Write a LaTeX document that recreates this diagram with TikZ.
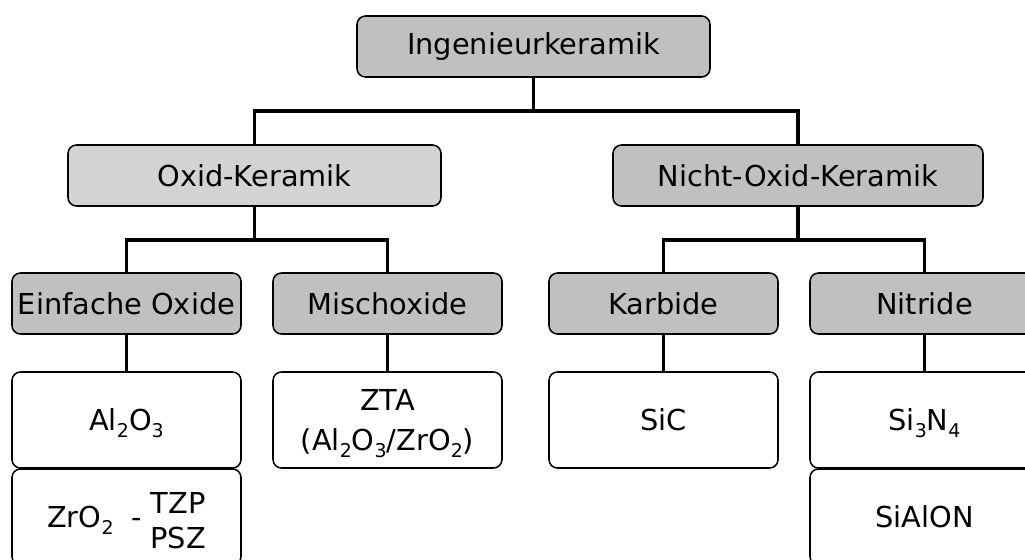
\documentclass[tikz,border=0pt]{standalone}
\usepackage{fontspec}
\setmainfont{DejaVu Sans}
\definecolor{boxgray}{HTML}{C0C0C0}
\definecolor{boxlight}{HTML}{D3D3D3}
\newcommand\chemsub[1]{\raisebox{-5pt}[0pt][0pt]{\fontsize{13.5}{14}\selectfont #1}}
\tikzset{
	box/.style={draw, line width=1.1pt, rounded corners=6pt, inner sep=0pt, font=\fontsize{20.5}{24}\selectfont, align=center},
	catbox/.style={box, fill=boxgray, minimum width=#1*0.025cm, minimum height=61*0.025cm},
	leafbox/.style={box, fill=white, minimum width=229*0.025cm, minimum height=96*0.025cm},
	conn/.style={line width=2.6pt}
}

\begin{document}
\begin{tikzpicture}[x=0.025cm, y=-0.025cm]
			\clip (0,0) rectangle (1025,559);
			\node (root)  at (533.5, 46.5)  [catbox=353] {Ingenieurkeramik};
			\node (oxid)  at (254.5, 175.5) [catbox=373, fill=boxlight] {Oxid-Keramik};
			\node (nicht) at (798,   175.5) [catbox=370] {Nicht-Oxid-Keramik};
			\node (einf)  at (126.5, 303.5) [catbox=229] {Einfache Oxide};
			\node (misch) at (387.5, 303.5) [catbox=229] {Mischoxide};
			\node (karb)  at (663.5, 303.5) [catbox=229] {Karbide};
			\node (nitr)  at (924.5, 303.5) [catbox=229] {Nitride};
			\node (al)    at (126.5, 420)   [leafbox] {Al\chemsub{2}O\chemsub{3}};
			\node (zta)   at (387.5, 420)   [leafbox, text depth=0pt] {ZTA\\[5pt](Al\chemsub{2}O\chemsub{3}/ZrO\chemsub{2})};
			\node (sic)   at (663.5, 420)   [leafbox] {SiC};
			\node (sin)   at (924.5, 420)   [leafbox] {Si\chemsub{3}N\chemsub{4}};
			\node (zro)   at (126.5, 517)   [leafbox] {ZrO\chemsub{2}\ \ -\;\raisebox{-3pt}[0pt][0pt]{\begin{tabular}{@{}c@{}}TZP\\[1pt]PSZ\end{tabular}}};
			\node (sialon) at (924.5, 517)  [leafbox] {SiAlON};
			\draw[conn] (root.south) -- ++(0,33.5) -| (oxid.north);
			\draw[conn] (root.south) -- ++(0,33.5) -| (nicht.north);
			\draw[conn] (oxid.south) -- ++(0,33) -| (einf.north);
			\draw[conn] (oxid.south) -- ++(0,33) -| (misch.north);
			\draw[conn] (nicht.south) -- ++(0,33) -| (karb.north);
			\draw[conn] (nicht.south) -- ++(0,33) -| (nitr.north);
			\draw[conn] (einf.south) -- (al.north);
			\draw[conn] (misch.south) -- (zta.north);
			\draw[conn] (karb.south) -- (sic.north);
			\draw[conn] (nitr.south) -- (sin.north);
		\end{tikzpicture}
\end{document}
